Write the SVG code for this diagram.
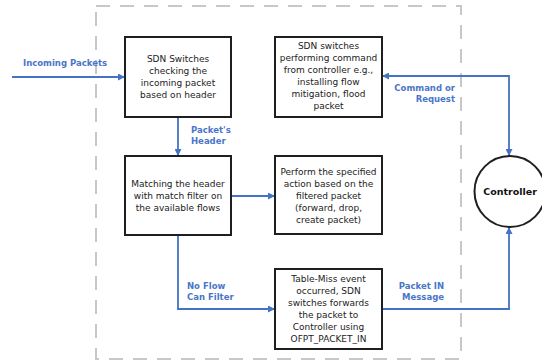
<svg xmlns="http://www.w3.org/2000/svg" width="542" height="360" viewBox="0 0 542 360">
<defs>
<marker id="ah" viewBox="0 0 10 10" refX="10" refY="5" markerWidth="7" markerHeight="7" markerUnits="userSpaceOnUse" orient="auto-start-reverse">
<path d="M0,0 L10,5 L0,10 z" fill="#4472C4"/>
</marker>
<style>
.box{fill:#fff;stroke:#1f1f1f;stroke-width:2}
.t{font-family:"DejaVu Sans",Verdana,sans-serif;font-size:9px;fill:#222;text-anchor:middle}
.lbl{font-family:"DejaVu Sans",Verdana,sans-serif;font-size:8.5px;font-weight:bold;fill:#4a76c8}
.c{fill:none;stroke:#4472C4;stroke-width:1.8}
</style>
</defs>
<rect width="542" height="360" fill="#fff"/>
<rect x="96" y="6" width="365" height="353" fill="none" stroke="#c8c8c8" stroke-width="2" stroke-dasharray="14 10"/>

<g id="connectors">
<line class="c" x1="12" y1="77" x2="125" y2="77" marker-end="url(#ah)"/>
<line class="c" x1="178" y1="117" x2="178" y2="156" marker-end="url(#ah)"/>
<line class="c" x1="231" y1="196" x2="275" y2="196" marker-end="url(#ah)"/>
<polyline class="c" points="178,235 178,309 275,309" marker-end="url(#ah)"/>
<polyline class="c" points="382,309 509,309 509,227" marker-end="url(#ah)"/>
<polyline class="c" points="382,76 509,76 509,156" marker-start="url(#ah)" marker-end="url(#ah)"/>
<text class="lbl" x="23" y="66">Incoming Packets</text>
<text class="lbl" x="191" y="133">Packet's</text>
<text class="lbl" x="191" y="144">Header</text>
<text class="lbl" x="187" y="289">No Flow</text>
<text class="lbl" x="187" y="300">Can Filter</text>
<text class="lbl" x="444" y="289" text-anchor="end">Packet IN</text>
<text class="lbl" x="444" y="300" text-anchor="end">Message</text>
<text class="lbl" x="455" y="91" text-anchor="end">Command or</text>
<text class="lbl" x="455" y="102" text-anchor="end">Request</text>
</g>

<g id="n1">
<rect class="box" x="125" y="37" width="106" height="80"/>
<text class="t" x="178" y="62">SDN Switches</text>
<text class="t" x="178" y="74">checking the</text>
<text class="t" x="178" y="86">incoming packet</text>
<text class="t" x="178" y="98">based on header</text>
</g>

<g id="n2">
<rect class="box" x="275" y="37" width="107" height="80"/>
<text class="t" x="328.5" y="49">SDN switches</text>
<text class="t" x="328.5" y="61">performing command</text>
<text class="t" x="328.5" y="73">from controller e.g.,</text>
<text class="t" x="328.5" y="85">installing flow</text>
<text class="t" x="328.5" y="97">mitigation, flood</text>
<text class="t" x="328.5" y="109">packet</text>
</g>

<g id="n3">
<rect class="box" x="125" y="156" width="106" height="79"/>
<text class="t" x="178" y="186.5">Matching the header</text>
<text class="t" x="178" y="198.5">with match filter on</text>
<text class="t" x="178" y="210.5">the available flows</text>
</g>

<g id="n4">
<rect class="box" x="275" y="156" width="107" height="78"/>
<text class="t" x="328.5" y="174.5">Perform the specified</text>
<text class="t" x="328.5" y="186.5">action based on the</text>
<text class="t" x="328.5" y="198.5">filtered packet</text>
<text class="t" x="328.5" y="210.5">(forward, drop,</text>
<text class="t" x="328.5" y="222.5">create packet)</text>
</g>

<g id="n5">
<rect class="box" x="275" y="269" width="107" height="80"/>
<text class="t" x="328.5" y="281.5">Table-Miss event</text>
<text class="t" x="328.5" y="293.5">occurred, SDN</text>
<text class="t" x="328.5" y="305.5">switches forwards</text>
<text class="t" x="328.5" y="317.5">the packet to</text>
<text class="t" x="328.5" y="329.5">Controller using</text>
<text class="t" x="328.5" y="341.5">OFPT_PACKET_IN</text>
</g>

<g id="controller">
<circle cx="510" cy="191.5" r="35.5" fill="#fff" stroke="#1f1f1f" stroke-width="2"/>
<text x="510" y="195" text-anchor="middle" style="font-family:'DejaVu Sans',Verdana,sans-serif;font-size:9.5px;font-weight:bold;fill:#111">Controller</text>
</g>
</svg>
